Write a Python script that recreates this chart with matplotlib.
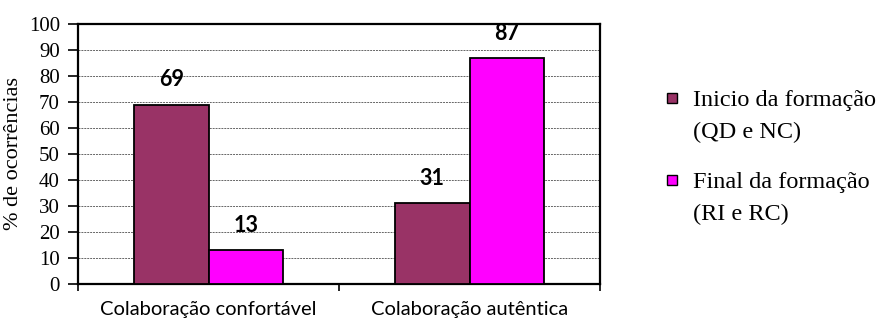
import matplotlib
matplotlib.use("Agg")
import matplotlib.pyplot as plt
from matplotlib.patches import Rectangle
import numpy as np

categories = ["Colaboração confortável", "Colaboração autêntica"]
inicio = [69, 31]
final = [13, 87]
yticks = [0, 10, 20, 30, 40, 50, 60, 70, 80, 90, 100]
series_first = ["Inicio da formação", "Final da formação"]
series_second = ["(QD e NC)", "(RI e RC)"]
colors = ["#993366", "#FF00FF"]

SERIF = "Liberation Serif"
SANS = "Lato"

plt.rcParams["font.family"] = SERIF
plt.rcParams["ytick.labelsize"] = 15
plt.rcParams["ytick.major.size"] = 7
plt.rcParams["ytick.major.width"] = 1.2
plt.rcParams["ytick.major.pad"] = 6

fig = plt.figure(figsize=(8.88, 3.24), dpi=100)
ax = fig.add_axes([0.0878, 0.1235, 0.588, 0.8025])

x = np.arange(len(categories))
w = 1 / 3.5
for offset, vals, c in [(-w / 2, inicio, colors[0]), (w / 2, final, colors[1])]:
    bars = ax.bar(x + offset, vals, width=w, color=c, edgecolor="black", linewidth=1.3, zorder=3)
    for b, v in zip(bars, vals):
        ax.text(b.get_x() + b.get_width() / 2, v + 9.5, str(v), ha="center", va="center",
                fontsize=15.5, fontweight="bold", family=SANS)

ax.set_xlim(-0.5, 1.5)
ax.set_ylim(0, 100)
ax.set_yticks(yticks)
ax.yaxis.grid(True, ls=(0, (2, 1)), color="#666666", lw=0.7, zorder=0)

ax.set_xticks(x, categories, family=SANS, fontsize=14.5)
ax.tick_params(axis="x", which="major", length=0, pad=12)
ax.set_xticks([-0.5, 0.5, 1.5], minor=True)
ax.tick_params(axis="x", which="minor", length=5, width=1.2)

for s in ax.spines.values():
    s.set_linewidth(1.6)
    s.set_color("black")

ax.set_ylabel("% de ocorrências", family=SERIF, fontsize=16, labelpad=4)

# legend drawn by hand so the swatch sits on the first text line
for i, c in enumerate(colors):
    yc = [0.6975, 0.4444][i]
    fig.add_artist(Rectangle((0.751, yc - 0.0155), 0.0113, 0.031, transform=fig.transFigure,
                             facecolor=c, edgecolor="black", lw=1))
    fig.text(0.780, yc - 0.008, series_first[i], family=SERIF, fontsize=17.5,
             va="center", ha="left")
    fig.text(0.780, yc - 0.008 - 0.097, series_second[i], family=SERIF, fontsize=17.5,
             va="center", ha="left")

fig.savefig("out.png", dpi=100)
